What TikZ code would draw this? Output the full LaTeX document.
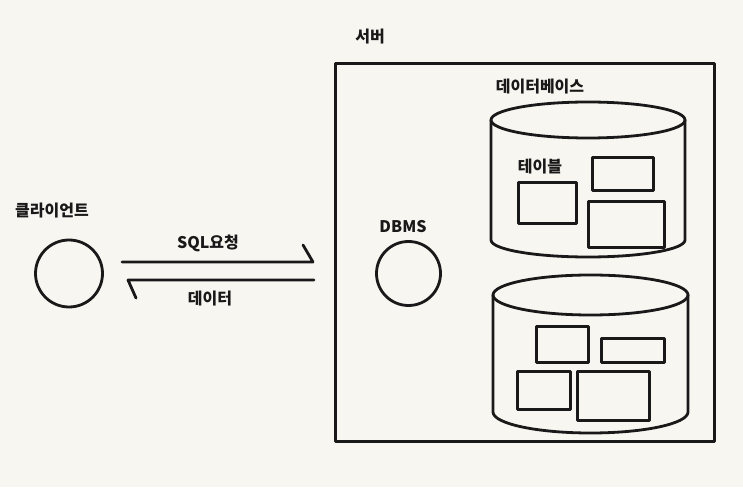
\documentclass[tikz,border=0pt]{standalone}
\usepackage{fontspec}
\setmainfont{Noto Sans CJK KR}
\begin{document}
\begin{tikzpicture}[x=1pt,y=1pt,
  ink/.style={draw=black!90, line width=2.8pt, line join=round, line cap=round},
  lbl/.style={font=\fontsize{16}{18}\selectfont\bfseries, text=black!90, inner sep=0pt},
  tbl/.style={ink, rectangle, inner sep=0pt},
  ball/.style={ink, circle, inner sep=0pt}]
\fill[fill={rgb,255:red,248;green,246;blue,241}] (0,0) rectangle (743,487);
\useasboundingbox (0,0) rectangle (743,487);

% client
\node[ball, minimum size=67pt] (client) at (69,213.5) {};
\node[lbl] (cl) at (52,276) {클라이언트};

% arrows
\coordinate (a1s) at (122,225);
\coordinate (a1e) at (313,225);
\coordinate (a1h) at (303,242);
\coordinate (a2s) at (314,207);
\coordinate (a2e) at (128,207);
\coordinate (a2h) at (136,189);
\draw[ink] (a1s) -- (a1e) -- (a1h);
\draw[ink] (a2s) -- (a2e) -- (a2h);
\node[lbl] (sql) at (208,244) {SQL요청};
\node[lbl] (dat) at (210,188) {데이터};

% server
\node[ink, rectangle, minimum width=379pt, minimum height=378pt, inner sep=0pt] (server) at (525,234.5) {};
\node[lbl] (srv) at (370,450) {서버};

% DBMS
\node[ball, minimum size=64pt] (dbmsc) at (408.5,213.5) {};
\node[lbl] (dbms) at (403,260) {DBMS};

% database label
\node[lbl] (db) at (540,400) {데이터베이스};

% top cylinder
\draw[ink] (588,367) ellipse [x radius=97pt, y radius=18pt];
\draw[ink] (491,367) -- (491,247) arc[start angle=180, end angle=360, x radius=97pt, y radius=17pt] -- (685,367);
\node[lbl] (tb) at (540,320) {테이블};
\node[tbl, minimum width=58pt, minimum height=41pt] (t1) at (547.5,284) {};
\node[tbl, minimum width=61pt, minimum height=33pt] (t2) at (623,313) {};
\node[tbl, minimum width=76pt, minimum height=46pt] (t3) at (626.5,262.5) {};

% bottom cylinder
\draw[ink] (590.5,192) ellipse [x radius=97.5pt, y radius=20pt];
\draw[ink] (493,192) -- (493,75) arc[start angle=180, end angle=360, x radius=97.5pt, y radius=21pt] -- (688,192);
\node[tbl, minimum width=52pt, minimum height=36pt] (b1) at (562.5,142.5) {};
\node[tbl, minimum width=63pt, minimum height=24pt] (b2) at (633,136.5) {};
\node[tbl, minimum width=53pt, minimum height=38pt] (b3) at (544,96.5) {};
\node[tbl, minimum width=72pt, minimum height=49pt] (b4) at (613.5,91) {};
\end{tikzpicture}
\end{document}
